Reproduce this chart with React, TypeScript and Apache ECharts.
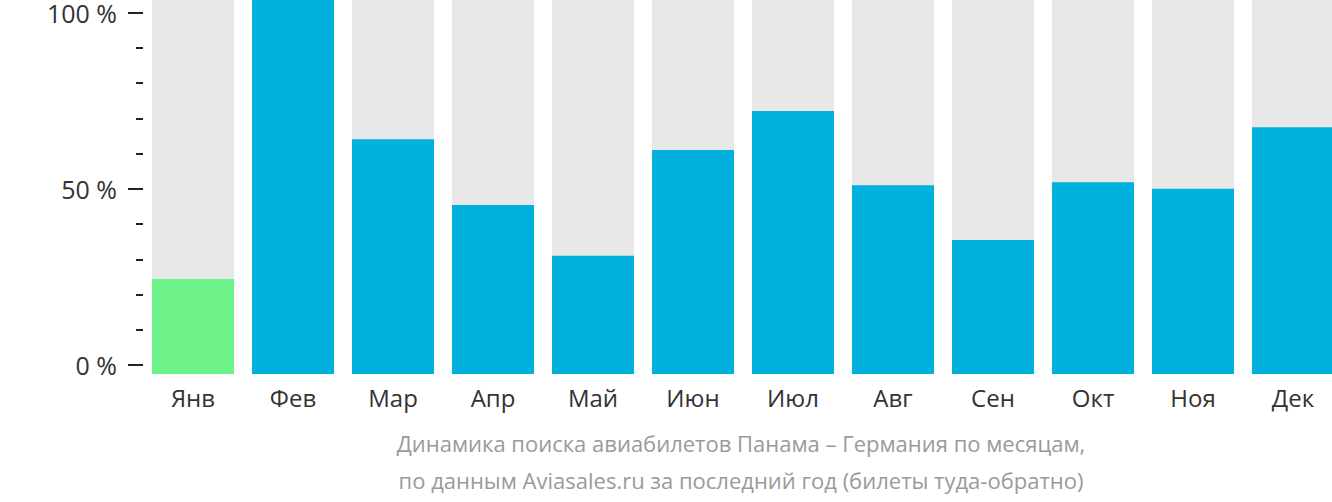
import React, { useEffect, useRef } from "react";
import * as echarts from "echarts";

const months = ["Янв", "Фев", "Мар", "Апр", "Май", "Июн", "Июл", "Авг", "Сен", "Окт", "Ноя", "Дек"];
const values = [25.4, 100, 62.8, 45.2, 31.6, 59.9, 70.3, 50.5, 35.8, 51.3, 49.5, 66.0];
const highlightIndex = 0;
const captionLines = [
  "Динамика поиска авиабилетов Панама – Германия по месяцам,",
  "по данным Aviasales.ru за последний год (билеты туда-обратно)",
];

const BLUE = "#00b1dd";
const GREEN = "#6df289";
const GREY = "#e8e8e8";
const FONT = "'Open Sans', 'Noto Sans', sans-serif";

export default function App() {
  const ref = useRef<HTMLDivElement>(null);
  useEffect(() => {
    document.body.style.margin = "0";
    const chart = echarts.init(ref.current!, null, { renderer: "svg" });
    chart.setOption({
      animation: false,
      grid: [
        { left: 143, width: 1200, top: 0, height: 374 },
        { left: 143, width: 10, top: 9, height: 356 },
      ],
      xAxis: [
        {
          type: "category",
          gridIndex: 0,
          data: months,
          axisLine: { show: false },
          axisTick: { show: false },
          axisLabel: { fontSize: 24, color: "#333", fontFamily: FONT, margin: 11 },
        },
        { type: "value", gridIndex: 1, show: false, min: 0, max: 1 },
      ],
      yAxis: [
        { type: "value", gridIndex: 0, min: 0, max: 100, show: false },
        {
          type: "value",
          gridIndex: 1,
          position: "left",
          min: 0,
          max: 100,
          interval: 50,
          axisLine: { show: false },
          splitLine: { show: false },
          axisTick: { show: true, length: 15, lineStyle: { color: "#222", width: 2 } },
          axisLabel: { formatter: "{value} %", fontSize: 25, color: "#333", fontFamily: FONT, margin: 26 },
        },
        {
          type: "value",
          gridIndex: 1,
          position: "left",
          offset: 0,
          min: 0,
          max: 100,
          interval: 10,
          axisLine: { show: false },
          splitLine: { show: false },
          axisTick: { show: true, length: 7, lineStyle: { color: "#222", width: 2 } },
          axisLabel: { show: false },
        },
      ],
      series: [
        {
          type: "bar",
          xAxisIndex: 0,
          yAxisIndex: 0,
          barWidth: 82,
          showBackground: true,
          backgroundStyle: { color: GREY },
          data: values.map((v, i) => ({
            value: v,
            itemStyle: { color: i === highlightIndex ? GREEN : BLUE },
          })),
        },
        { type: "line", xAxisIndex: 1, yAxisIndex: 2, data: [] },
      ],
      graphic: captionLines.map((t, i) => ({
        type: "text",
        x: 741,
        y: 443 + i * 37,
        style: {
          text: t,
          fontSize: 22,
          fontFamily: FONT,
          fill: "#9a9a9a",
          textAlign: "center",
          textVerticalAlign: "middle",
        },
      })),
    });
    return () => chart.dispose();
  }, []);
  return (
    <div style={{ width: 1332, height: 502, overflow: "hidden" }}>
      <div ref={ref} style={{ width: 1343, height: 502 }} />
    </div>
  );
}
